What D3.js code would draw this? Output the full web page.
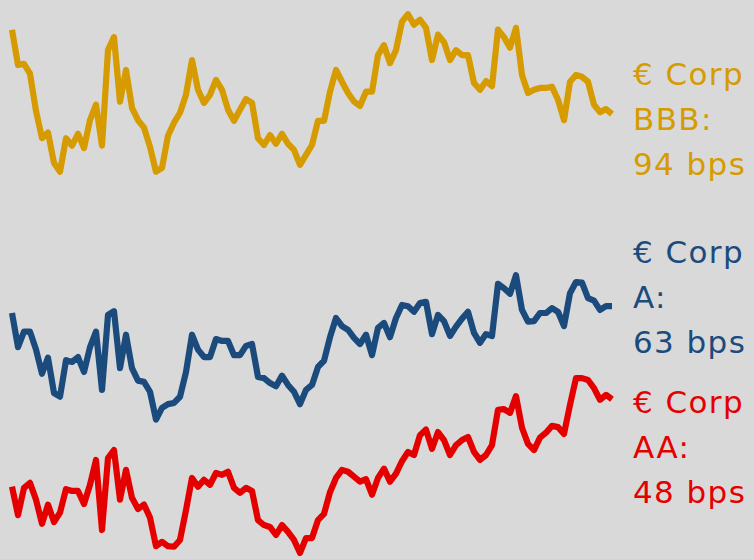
<!DOCTYPE html>
<html>
<head>
<meta charset="utf-8">
<script src="https://cdn.jsdelivr.net/npm/d3@7"></script>
<style>
  html, body { margin: 0; padding: 0; background: #d9d9d9; }
  svg { display: block; }
</style>
</head>
<body>
<svg id="chart" width="754" height="559"></svg>
<script>
// Spreads in bps (equally spaced observations)
const bbb = [107.6,101.9,102.1,100.5,94.5,90.1,91.0,86.1,84.7,90.1,88.9,90.8,88.5,93.0,95.5,88.9,104.3,106.4,96.0,101.1,
  95.0,93.0,91.8,88.7,84.7,85.3,90.5,92.6,94.2,97.1,102.7,97.9,95.8,97.1,99.5,97.9,94.7,92.9,94.7,96.4,
  95.8,90.1,89.0,90.6,89.2,90.8,89.2,88.2,85.8,87.4,89.0,92.9,92.9,97.6,101.1,99.2,97.4,96.0,95.3,97.6,
  97.6,103.5,105.1,102.2,104.3,108.9,110.1,108.4,109.2,107.9,102.7,106.8,105.6,102.7,104.3,103.5,103.5,99.0,97.9,99.3,
  98.5,107.6,106.4,104.7,107.9,100.3,97.4,97.9,98.2,98.2,98.4,96.3,93.0,99.2,100.3,100.0,99.2,95.5,94.3,94.8,94.0];
const singleA = [61.9,56.4,58.9,58.9,56.0,52.1,54.7,49.0,48.4,54.3,54.0,54.8,52.4,56.4,58.9,49.5,61.6,62.2,53.0,58.4,
  53.0,51.0,50.8,49.2,44.7,46.6,47.2,47.4,48.4,52.4,58.4,56.0,54.8,54.8,57.7,57.4,57.4,55.1,55.1,56.6,
  56.9,51.6,51.4,50.6,50.1,51.8,50.3,49.2,47.2,49.5,50.3,53.2,54.2,58.0,61.1,59.8,59.2,57.9,56.9,58.4,
  55.1,59.5,60.3,58.0,61.1,63.2,63.0,62.1,63.5,63.7,58.5,61.6,60.6,58.2,59.7,61.0,62.1,58.7,57.1,58.5,
  58.2,66.6,65.9,65.0,68.0,62.4,60.5,60.6,61.9,61.9,62.7,62.1,59.8,65.1,66.9,66.8,64.3,63.9,62.4,63.0,63.0];
const doubleA = [33.9,29.3,33.7,34.5,31.8,27.9,31.0,28.2,29.7,33.5,33.2,33.2,31.1,34.2,38.2,26.9,38.5,39.8,31.8,36.6,
  32.1,30.3,31.0,28.9,24.3,25.0,24.3,24.2,25.3,30.1,35.3,33.9,35.0,34.2,36.1,35.8,36.3,33.7,32.9,33.7,
  33.2,28.5,27.7,27.4,26.1,27.7,26.6,25.3,23.2,25.6,25.6,28.5,29.5,33.0,35.3,36.6,36.3,35.5,34.7,35.1,
  32.6,35.3,36.8,34.7,36.0,38.0,39.5,39.0,42.2,43.1,40.0,42.7,41.4,39.0,40.6,41.4,41.9,39.5,38.2,39.0,
  40.6,46.3,46.4,45.8,48.5,43.4,40.8,39.8,41.8,42.6,43.7,43.5,42.4,47.1,51.4,51.4,51.1,49.8,47.9,48.7,48.0];

const seriesNames = ["BBB", "A", "AA"];
const seriesColors = ["#d59b00", "#1b4b7d", "#e50000"];
const seriesLabels = [
  ["€ Corp", "BBB:", "94 bps"],
  ["€ Corp", "A:", "63 bps"],
  ["€ Corp", "AA:", "48 bps"]
];

const allSeries = [bbb, singleA, doubleA];

const svg = d3.select("#chart");
const n = bbb.length;

const x = d3.scaleLinear().domain([0, n - 1]).range([12, 612]);
const y = d3.scaleLinear().domain([20, 112]).range([572.8, 2.4]);

const line = d3.line()
  .x((d, i) => x(i))
  .y(d => y(d));

allSeries.forEach((s, k) => {
  svg.append("path")
    .datum(s)
    .attr("d", line)
    .attr("fill", "none")
    .attr("stroke", seriesColors[k])
    .attr("stroke-width", 6.2)
    .attr("stroke-linejoin", "round")
    .attr("stroke-linecap", "butt");
});

const labelBaseline = [85, 263, 413];
allSeries.forEach((s, k) => {
  const t = svg.append("text")
    .attr("x", 633)
    .attr("y", labelBaseline[k])
    .attr("fill", seriesColors[k])
    .style("font-family", "'DejaVu Sans', sans-serif")
    .style("font-size", "31px")
    .style("letter-spacing", "1.4px");
  seriesLabels[k].forEach((ln, j) => {
    t.append("tspan")
      .attr("x", 633)
      .attr("y", labelBaseline[k] + j * 45)
      .text(ln);
  });
});
</script>
</body>
</html>
